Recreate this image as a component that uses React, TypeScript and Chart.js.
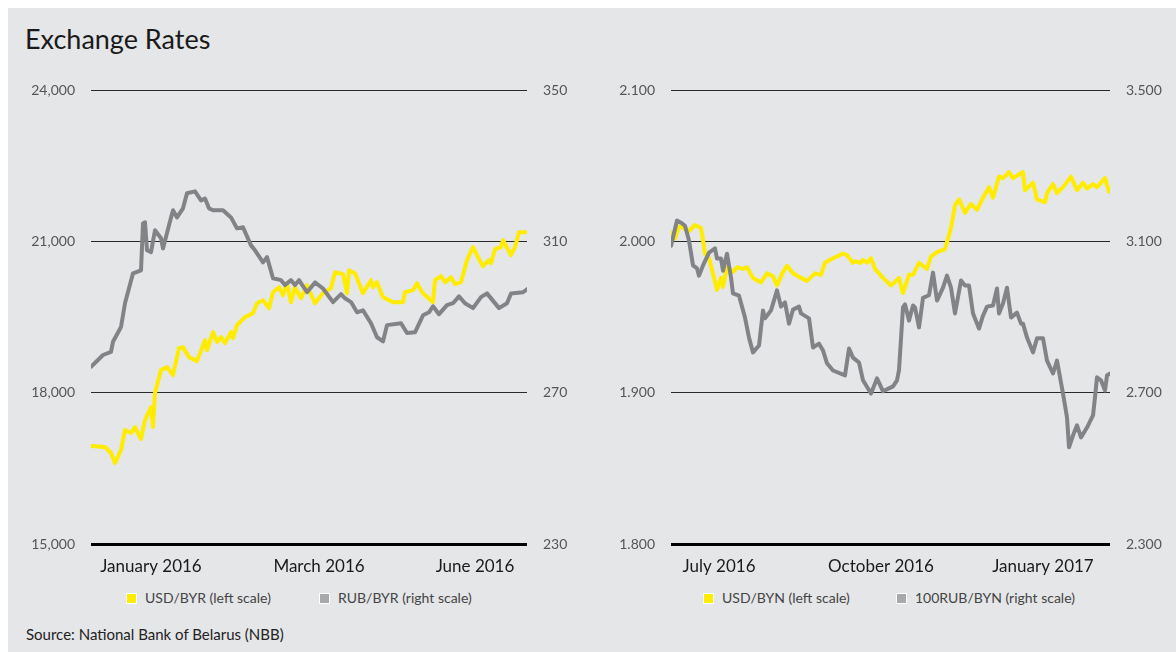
import React, { useEffect, useRef } from 'react';
import Chart from 'chart.js/auto';

// ---------- Left chart: BYR (old) ----------
const usdByrDays = [0,7,10,12,15,17,20,22,25,27,30,31,32,35,38,41,44,46,49,53,57,58,61,63,65,67,70,71,73,77,81,83,86,89,91,94,96,98,100,102,105,108,112,116,120,122,126,128,129,132,136,140,141,143,146,149,151,156,157,161,163,166,171,172,175,177,180,182,185,188,191,193,196,199,200,202,205,206,210,212,214,218];
const usdByrValues = [16944,16924,16805,16607,16865,17261,17202,17321,17083,17459,17717,17321,17994,18450,18510,18351,18886,18906,18708,18629,19045,18847,19204,19006,19105,18986,19204,19085,19342,19501,19580,19778,19838,19679,19996,20095,19937,20175,19798,20095,19877,20135,19778,19976,20076,20393,20353,19976,20432,20373,19976,20234,20095,20194,19897,19838,19798,19798,19996,20036,20175,19976,19798,20234,20313,20194,20294,20155,20194,20631,20889,20730,20512,20631,20571,20849,20889,21027,20730,20889,21186,21186];
const rubByrDays = [0,6,10,11,15,17,21,25,26,27,28,30,32,35,36,39,41,43,46,48,52,55,57,59,61,66,70,73,76,80,82,86,88,91,95,97,100,102,104,108,112,116,121,125,127,130,133,136,140,143,146,148,155,158,162,166,169,171,174,178,181,184,187,191,195,198,204,208,210,216,218];
const rubByrValues = [276.9,280.0,280.8,283.5,287.4,293.7,301.6,302.4,314.8,315.1,307.7,307.2,313.0,310.9,308.2,314.3,318.3,316.4,318.8,322.8,323.3,320.9,321.4,318.8,318.3,318.3,316.4,313.5,313.8,309.0,307.7,304.5,305.9,300.3,299.8,298.5,299.8,298.5,299.8,296.6,299.2,297.6,294.0,296.1,295.0,294.0,291.3,291.8,288.4,284.7,283.6,287.9,288.4,285.8,286.0,290.5,291.3,292.9,290.8,293.2,293.7,295.5,293.7,292.4,295.3,296.3,292.4,293.7,296.3,296.6,297.4];
const leftTickDays = [30, 114, 192];
const leftTickLabels = ['January 2016', 'March 2016', 'June 2016'];
const leftAxisTicks = [15000, 18000, 21000, 24000];
const leftRightAxisTicks = [230, 270, 310, 350];

// ---------- Right chart: BYN (new) ----------
const usdBynDays = [0,2,4,6,9,12,15,16,17,19,21,23,25,26,28,31,33,36,38,41,45,48,51,53,56,58,61,65,68,72,75,77,81,86,88,91,92,95,96,98,100,102,106,110,111,114,116,119,121,124,128,130,133,137,140,142,144,147,150,153,156,159,161,164,166,169,171,176,177,181,183,187,188,191,193,196,200,203,206,208,211,213,217,219];
const usdBynValues = [2.006,2.002,2.010,2.009,2.007,2.011,2.009,2.001,1.992,1.989,1.979,1.968,1.976,1.970,1.983,1.980,1.983,1.982,1.983,1.976,1.973,1.979,1.977,1.971,1.980,1.984,1.979,1.976,1.974,1.979,1.978,1.986,1.989,1.992,1.991,1.986,1.987,1.986,1.988,1.986,1.989,1.982,1.976,1.971,1.972,1.976,1.966,1.978,1.978,1.986,1.982,1.990,1.993,1.995,2.009,2.024,2.028,2.019,2.025,2.021,2.029,2.036,2.029,2.043,2.042,2.046,2.042,2.046,2.034,2.039,2.028,2.026,2.032,2.038,2.032,2.036,2.043,2.034,2.039,2.035,2.038,2.036,2.042,2.033];
const rubBynDays = [0,3,5,7,9,11,13,14,16,19,22,23,25,26,28,30,31,34,37,39,41,44,46,47,50,53,55,57,59,61,64,65,69,71,74,76,78,81,87,89,91,94,96,100,103,106,111,113,114,116,117,119,121,122,124,126,129,131,133,136,138,140,142,145,147,149,151,154,156,158,161,163,164,166,168,170,173,175,176,178,181,183,186,188,191,193,196,198,199,201,203,205,208,211,212,213,215,217,218,219.5];
const rubBynValues = [3.089,3.156,3.150,3.142,3.103,3.037,3.029,3.010,3.037,3.071,3.082,3.055,3.055,3.023,3.068,3.005,2.963,2.957,2.899,2.846,2.807,2.825,2.918,2.897,2.918,2.971,2.928,2.939,2.883,2.920,2.928,2.910,2.897,2.820,2.830,2.812,2.778,2.759,2.746,2.817,2.793,2.780,2.733,2.698,2.738,2.704,2.717,2.733,2.760,2.926,2.934,2.891,2.931,2.926,2.873,2.951,2.958,3.018,2.944,2.978,3.010,2.978,2.910,2.997,2.984,2.984,2.910,2.870,2.904,2.928,2.931,2.976,2.910,2.936,2.978,2.899,2.912,2.883,2.883,2.846,2.807,2.844,2.844,2.785,2.751,2.785,2.698,2.635,2.556,2.587,2.614,2.582,2.608,2.640,2.688,2.741,2.733,2.706,2.746,2.751];
const rightTickDays = [24, 105, 186];
const rightTickLabels = ['July 2016', 'October 2016', 'January 2017'];
const rightAxisTicks = [1.8, 1.9, 2.0, 2.1];
const rightRightAxisTicks = [2.3, 2.7, 3.1, 3.5];

const YELLOW = '#ffec00';
const GRAY = '#828386';
const GRAY_SWATCH = '#a7a9ac';
const BG = '#e5e6e8';
const FONT = 'Lato, "Open Sans", sans-serif';

type Spec = {
  yDays: number[]; yVals: number[]; gDays: number[]; gVals: number[];
  maxDay: number; tickDays: number[]; tickLabels: string[];
  leftTicks: number[]; rightTicks: number[];
  fmtLeft: (v: number) => string; fmtRight: (v: number) => string;
  rightWidth: number;
};

function buildConfig(p: Spec): any {
  const lmin = p.leftTicks[0];
  return {
    type: 'line',
    data: {
      datasets: [
        {
          data: p.yDays.map((d, i) => ({ x: d, y: p.yVals[i] })),
          yAxisID: 'y', borderColor: YELLOW, borderWidth: 4, pointRadius: 0,
          borderJoinStyle: 'round', borderCapStyle: 'round', order: 1, fill: false,
        },
        {
          data: p.gDays.map((d, i) => ({ x: d, y: p.gVals[i] })),
          yAxisID: 'y1', borderColor: GRAY, borderWidth: 4, pointRadius: 0,
          borderJoinStyle: 'round', borderCapStyle: 'round', order: 0, fill: false,
        },
      ],
    },
    options: {
      responsive: false,
      animation: false,
      events: [],
      layout: { padding: { top: 0, left: 0, right: 0, bottom: 0 } },
      plugins: { legend: { display: false }, tooltip: { enabled: false } },
      scales: {
        x: {
          type: 'linear', min: 0, max: p.maxDay,
          grid: { display: false, drawTicks: false },
          border: { display: false },
          afterBuildTicks: (s: any) => { s.ticks = p.tickDays.map((v) => ({ value: v })); },
          afterFit: (s: any) => { s.height = 41; },
          ticks: {
            autoSkip: false, maxRotation: 0, minRotation: 0, padding: 12,
            color: '#1a1a1a', font: { family: FONT, size: 17 },
            callback: (_v: any, i: number) => p.tickLabels[i],
          },
        },
        y: {
          position: 'left', min: p.leftTicks[0], max: p.leftTicks[p.leftTicks.length - 1],
          afterBuildTicks: (s: any) => { s.ticks = p.leftTicks.map((v) => ({ value: v })); },
          afterFit: (s: any) => { s.width = 71; },
          grid: {
            drawTicks: false,
            color: (c: any) => (c.tick && Math.abs(c.tick.value - lmin) < 1e-9 ? '#000' : '#2a2a2a'),
            lineWidth: (c: any) => (c.tick && Math.abs(c.tick.value - lmin) < 1e-9 ? 3 : 1),
          },
          border: { display: false },
          ticks: { padding: 16, color: '#555', font: { family: FONT, size: 14 }, callback: (v: any) => p.fmtLeft(Number(v)) },
        },
        y1: {
          position: 'right', min: p.rightTicks[0], max: p.rightTicks[p.rightTicks.length - 1],
          afterBuildTicks: (s: any) => { s.ticks = p.rightTicks.map((v) => ({ value: v })); },
          afterFit: (s: any) => { s.width = p.rightWidth; },
          grid: { display: false, drawTicks: false },
          border: { display: false },
          ticks: { padding: 16, color: '#555', font: { family: FONT, size: 14 }, callback: (v: any) => p.fmtRight(Number(v)) },
        },
      },
    },
  };
}

function LineChart({ spec, left, top, width, height }: { spec: Spec; left: number; top: number; width: number; height: number }) {
  const ref = useRef<HTMLCanvasElement>(null);
  useEffect(() => {
    if (!ref.current) return;
    const chart = new Chart(ref.current, buildConfig(spec));
    return () => chart.destroy();
  }, []);
  return (
    <canvas ref={ref} width={width} height={height}
      style={{ position: 'absolute', left, top, width, height }} />
  );
}

function LegendItem({ x, y, color, label }: { x: number; y: number; color: string; label: string }) {
  return (
    <>
      <div style={{ position: 'absolute', left: x, top: y - 5, width: 9, height: 9, background: color, border: '1px solid #fff' }} />
      <div style={{ position: 'absolute', left: x + 19, top: y - 9, fontSize: 14, lineHeight: '17px', color: '#444', whiteSpace: 'nowrap' }}>{label}</div>
    </>
  );
}

export default function App() {
  const leftSpec: Spec = {
    yDays: usdByrDays, yVals: usdByrValues, gDays: rubByrDays, gVals: rubByrValues,
    maxDay: 218, tickDays: leftTickDays, tickLabels: leftTickLabels,
    leftTicks: leftAxisTicks, rightTicks: leftRightAxisTicks,
    fmtLeft: (v) => v.toLocaleString('en-US'), fmtRight: (v) => String(v),
    rightWidth: 63,
  };
  const rightSpec: Spec = {
    yDays: usdBynDays, yVals: usdBynValues, gDays: rubBynDays, gVals: rubBynValues,
    maxDay: 219.5, tickDays: rightTickDays, tickLabels: rightTickLabels,
    leftTicks: rightAxisTicks, rightTicks: rightRightAxisTicks,
    fmtLeft: (v) => v.toFixed(3), fmtRight: (v) => v.toFixed(3),
    rightWidth: 62,
  };
  return (
    <div style={{ position: 'fixed', left: 8, top: 8, width: 1168, height: 644, background: BG, fontFamily: FONT, overflow: 'hidden' }}>
      <div style={{ position: 'absolute', left: 17, top: 17, fontSize: 27, fontWeight: 400, lineHeight: 1, color: '#1a1a1a', whiteSpace: 'nowrap' }}>Exchange Rates</div>
      <LineChart spec={leftSpec} left={12} top={58} width={570} height={519} />
      <LineChart spec={rightSpec} left={592} top={58} width={572} height={519} />
      <LegendItem x={118} y={590} color={YELLOW} label="USD/BYR (left scale)" />
      <LegendItem x={311} y={590} color={GRAY_SWATCH} label="RUB/BYR (right scale)" />
      <LegendItem x={695} y={590} color={YELLOW} label="USD/BYN (left scale)" />
      <LegendItem x={888} y={590} color={GRAY_SWATCH} label="100RUB/BYN (right scale)" />
      <div style={{ position: 'absolute', left: 18, top: 617, fontSize: 15, lineHeight: '18px', color: '#222', whiteSpace: 'nowrap' }}>Source: National Bank of Belarus (NBB)</div>
    </div>
  );
}
